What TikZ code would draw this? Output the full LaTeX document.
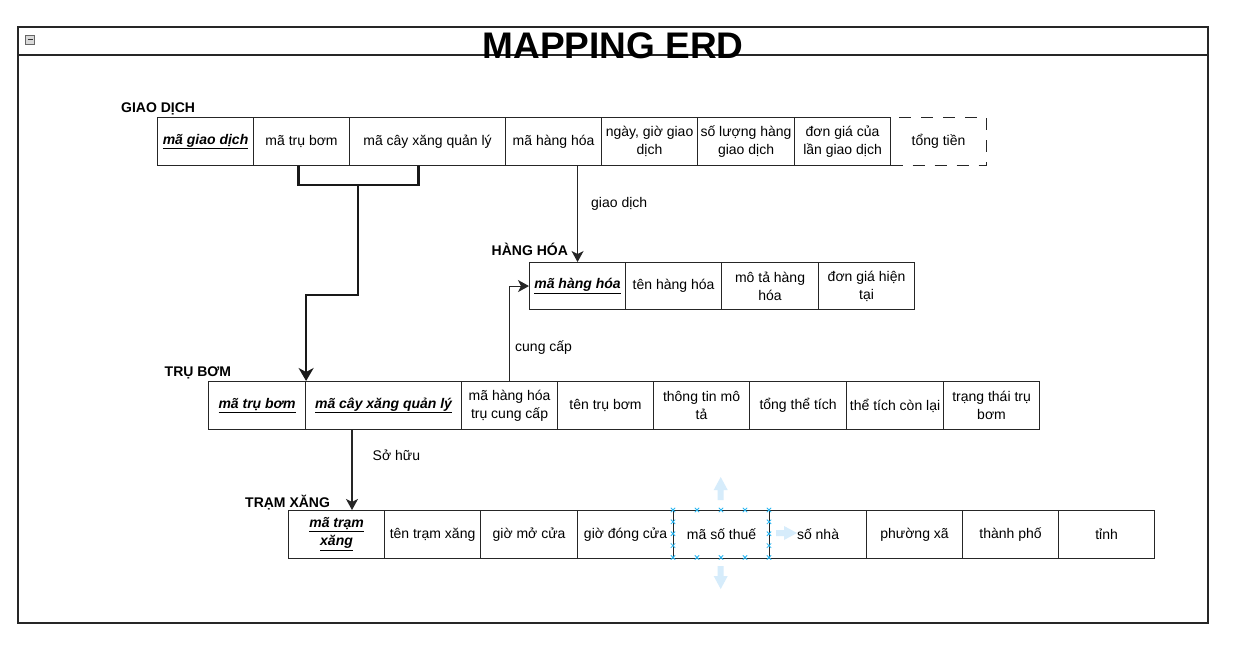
\documentclass[tikz,border=0pt]{standalone}
\usepackage{fontspec}
\setmainfont{Liberation Sans}
\usetikzlibrary{arrows.meta}
\begin{document}
\begin{tikzpicture}[x=1pt,y=-1pt,
  bline/.style={draw=black!85, line width=1.1pt},
  cell/.style={draw=black!85, line width=1.1pt, inner sep=0pt, anchor=north west, align=center, font=\fontsize{14}{18}\selectfont},
  pk/.style={cell, font=\fontsize{14}{18}\selectfont\bfseries\itshape},
  dcell/.style={cell, dash pattern=on 12pt off 10pt},
  ttl/.style={font=\fontsize{14}{17}\selectfont\bfseries, inner sep=0pt, anchor=base west},
  lbl/.style={font=\fontsize{14}{17}\selectfont, inner sep=0pt, anchor=base west},
  conn/.style={draw=black!85, line width=1.1pt, -{Stealth[length=11pt,width=12pt,inset=3pt]}},
  tconn/.style={draw=black!90, line width=2.5pt},
  tarr/.style={tconn, -{Stealth[length=13pt,width=15pt,inset=4pt]}},
  handle/.style={draw={rgb,255:red,41;green,182;blue,242}, line width=0.8pt},
  ghost/.style={fill={rgb,255:red,214;green,236;blue,251}, draw=none}
]
\useasboundingbox (0,0) rectangle (1237,657);
\fill[white] (0,0) rectangle (1237,657);

% frame
\draw[bline] (18,27) rectangle (1208,623);
\draw[bline] (18,55) -- (1208,55);
\draw[draw=black!60, fill=black!15, line width=0.6pt] (25.5,35) rectangle (34.5,44);
\draw[black!80, line width=1pt] (27.5,39.5) -- (32.5,39.5);
\node[font=\fontsize{37}{40}\selectfont\bfseries, inner sep=0pt, anchor=base] (title) at (613,58.3) {MAPPING ERD};

% selection ghost arrows (behind cells)
\fill[ghost] (720.7,477) -- (727.7,490) -- (723.7,490) -- (723.7,500) -- (717.7,500) -- (717.7,490) -- (713.7,490) -- cycle;
\fill[ghost] (720.7,589) -- (727.7,576) -- (723.7,576) -- (723.7,566) -- (717.7,566) -- (717.7,576) -- (713.7,576) -- cycle;
\fill[ghost] (797,533) -- (784,526) -- (784,530) -- (776,530) -- (776,536) -- (784,536) -- (784,540) -- cycle;

% GIAO DICH
\node[ttl] (lg) at (121,112.3) {GIAO DỊCH};
\node[pk, minimum width=96pt, minimum height=48pt] (g1) at (157,117) {\underline{mã giao dịch}};
\node[cell, minimum width=96pt, minimum height=48pt] (g2) at (253,117) {mã trụ bơm};
\node[cell, minimum width=156pt, minimum height=48pt] (g3) at (349,117) {mã cây xăng quản lý};
\node[cell, minimum width=96pt, minimum height=48pt] (g4) at (505,117) {mã hàng hóa};
\node[cell, minimum width=96pt, minimum height=48pt] (g5) at (601,117) {ngày, giờ giao\\dịch};
\node[cell, minimum width=97pt, minimum height=48pt] (g6) at (697,117) {số lượng hàng\\giao dịch};
\node[cell, minimum width=96pt, minimum height=48pt] (g7) at (794,117) {đơn giá của\\lần giao dịch};
\node[dcell, minimum width=96pt, minimum height=48pt] (g8) at (890,117) {tổng tiền};

% HANG HOA
\node[ttl] (lh) at (491.5,255.7) {HÀNG HÓA};
\node[pk, minimum width=96pt, minimum height=47pt] (h1) at (529,262) {\underline{mã hàng hóa}};
\node[cell, minimum width=96pt, minimum height=47pt] (h2) at (625,262) {tên hàng hóa};
\node[cell, minimum width=97pt, minimum height=47pt] (h3) at (721,262) {mô tả hàng\\hóa};
\node[cell, minimum width=96pt, minimum height=47pt] (h4) at (818,262) {đơn giá hiện\\tại};

% TRU BOM
\node[ttl] (lt) at (164.5,376) {TRỤ BƠM};
\node[pk, minimum width=97pt, minimum height=48pt] (t1) at (208,381) {\underline{mã trụ bơm}};
\node[pk, minimum width=156pt, minimum height=48pt] (t2) at (305,381) {\underline{mã cây xăng quản lý}};
\node[cell, minimum width=96pt, minimum height=48pt] (t3) at (461,381) {mã hàng hóa\\trụ cung cấp};
\node[cell, minimum width=96pt, minimum height=48pt] (t4) at (557,381) {tên trụ bơm};
\node[cell, minimum width=96pt, minimum height=48pt] (t5) at (653,381) {thông tin mô\\tả};
\node[cell, minimum width=97pt, minimum height=48pt] (t6) at (749,381) {tổng thể tích};
\node[cell, minimum width=97pt, minimum height=48pt] (t7) at (846,381) {thể tích còn lại};
\node[cell, minimum width=96pt, minimum height=48pt] (t8) at (943,381) {trạng thái trụ\\bơm};

% TRAM XANG
\node[ttl] (ls) at (245,507.7) {TRẠM XĂNG};
\node[pk, minimum width=96pt, minimum height=47.5pt] (s1) at (288,510) {\underline{mã trạm}\\\underline{xăng}};
\node[cell, minimum width=96pt, minimum height=47.5pt] (s2) at (384,510) {tên trạm xăng};
\node[cell, minimum width=97pt, minimum height=47.5pt] (s3) at (480,510) {giờ mở cửa};
\node[cell, minimum width=96pt, minimum height=47.5pt] (s4) at (577,510) {giờ đóng cửa};
\node[cell, minimum width=96pt, minimum height=47.5pt] (s5) at (673,510) {mã số thuế};
\node[cell, minimum width=97pt, minimum height=47.5pt] (s6) at (769,510) {số nhà};
\node[cell, minimum width=96pt, minimum height=47.5pt] (s7) at (866,510) {phường xã};
\node[cell, minimum width=96pt, minimum height=47.5pt] (s8) at (962,510) {thành phố};
\node[cell, minimum width=96pt, minimum height=47.5pt] (s9) at (1058,510) {tỉnh};

% selection handles on s5
\foreach \hx in {673,697,721,745,769} {
  \draw[handle] (\hx-2.2,507.8) -- (\hx+2.2,512.2) (\hx-2.2,512.2) -- (\hx+2.2,507.8);
  \draw[handle] (\hx-2.2,555.3) -- (\hx+2.2,559.7) (\hx-2.2,559.7) -- (\hx+2.2,555.3);
}
\foreach \hy in {521.8,533.7,545.6} {
  \draw[handle] (670.8,\hy-2.2) -- (675.2,\hy+2.2) (670.8,\hy+2.2) -- (675.2,\hy-2.2);
  \draw[handle] (766.8,\hy-2.2) -- (771.2,\hy+2.2) (766.8,\hy+2.2) -- (771.2,\hy-2.2);
}

% connectors
\coordinate (bm) at (358,185);
\draw[tconn] ([xshift=-3pt]g2.south) |- (bm) -| ([xshift=-9pt]g3.south);
\draw[tarr] (bm) -- ++(0,110) -| (t1.north east);

\draw[conn] (g4.south -| h1.north) -- (h1.north);
\node[lbl] (lgd) at (591,207.5) {giao dịch};

\draw[conn] (t3.north) |- (h1.west);
\node[lbl] (lcc) at (515,351.5) {cung cấp};

\coordinate (sh) at ([xshift=47pt]t2.south west);
\draw[conn] (sh) -- (sh |- s1.north);
\node[lbl] (lsh) at (372.5,460) {Sở hữu};
\end{tikzpicture}
\end{document}
